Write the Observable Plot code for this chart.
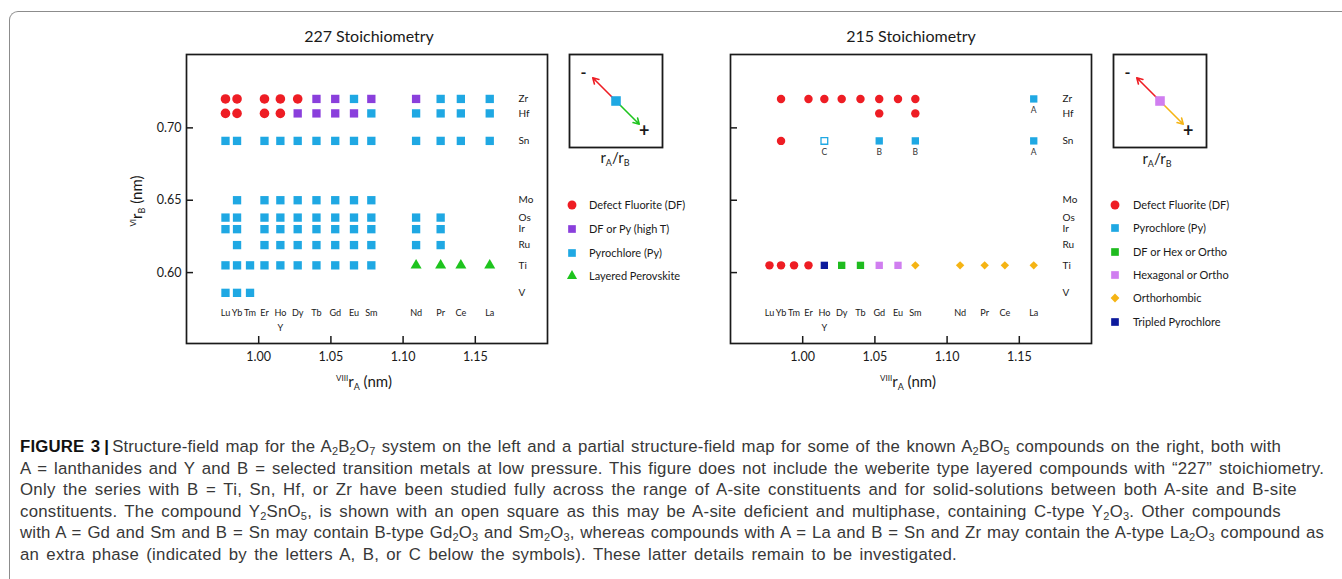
<!DOCTYPE html>
<html><head><meta charset="utf-8">
<script src="https://cdn.jsdelivr.net/npm/d3@7"></script>
<script src="https://cdn.jsdelivr.net/npm/@observablehq/plot@0.6"></script>
<style>
html,body{margin:0;padding:0;background:#fff}
body{width:1342px;height:579px;overflow:hidden;position:relative;font-family:Lato,"Open Sans",sans-serif;color:#1a1a1a}
.abs{position:absolute}
#border{position:absolute;left:9px;top:11px;width:1400px;height:700px;border-left:1px solid #8c8c8c;border-top:1px solid #8c8c8c;border-top-left-radius:9px}
.title{font-size:16px;text-align:center;width:240px;line-height:20px}
.axlab{font-size:15px;white-space:nowrap;line-height:18px}
.axlab sup{font-size:8px;vertical-align:6px}
.axlab sub{font-size:9px;vertical-align:-3px}
.ratio{font-size:15px;white-space:nowrap;line-height:18px}
.ratio sub{font-size:9px;vertical-align:-3px}
.leg{position:absolute;font-size:11px;white-space:nowrap;line-height:14px}
.leg svg{position:absolute;overflow:visible}
.cap{position:absolute;white-space:nowrap;font-family:"Liberation Sans",Arial,sans-serif;font-size:16.8px;line-height:20px;color:#383838}
.cap sub{font-size:11px;position:relative;top:3px;vertical-align:baseline}
.cap b{color:#111}
</style></head><body>
<div id="border"></div>
<script>
// ---------- data ----------
const aSites = ["Lu","Yb","Tm","Er","Ho","Dy","Tb","Gd","Eu","Sm","Nd","Pr","Ce","La"];
const aSitesBelow = ["","","","","Y","","","","","","","","",""];
const rA = [0.977,0.985,0.994,1.004,1.015,1.027,1.040,1.053,1.066,1.078,1.109,1.126,1.140,1.160];
const bSites = ["Zr","Hf","Sn","Mo","Os","Ir","Ru","Ti","V"];
const rB = [0.720,0.710,0.691,0.650,0.638,0.630,0.619,0.605,0.586];
const xTicks = [1.00,1.05,1.10,1.15];
const yTicks = [0.60,0.65,0.70];

// 227 stoichiometry: phase per A site (order of aSites), "" = not shown
const p227_Zr = ["DF","DF","","DF","DF","DF","DP","DP","Py","DP","DP","Py","Py","Py"];
const p227_Hf = ["DF","DF","","DF","DF","DP","DP","DP","DP","Py","Py","Py","Py","Py"];
const p227_Sn = ["Py","Py","","Py","Py","Py","Py","Py","Py","Py","Py","Py","Py","Py"];
const p227_Mo = ["","Py","","Py","Py","Py","Py","Py","Py","Py","","","",""];
const p227_Os = ["Py","Py","","Py","Py","Py","Py","Py","Py","Py","Py","Py","",""];
const p227_Ir = ["Py","Py","","Py","Py","Py","Py","Py","Py","Py","Py","Py","",""];
const p227_Ru = ["","Py","","Py","Py","Py","Py","Py","Py","Py","Py","Py","",""];
const p227_Ti = ["Py","Py","Py","Py","Py","Py","Py","Py","Py","Py","LP","LP","LP","LP"];
const p227_V  = ["Py","Py","Py","","","","","","","","","","",""];

// 215 stoichiometry
const p215_Zr = ["","DF","","DF","DF","DF","DF","DF","DF","DF","","","","Py"];
const p215_Hf = ["","","","","","","","DF","","DF","","","",""];
const p215_Sn = ["","DF","","","Op","","","Py","","Py","","","","Py"];
const p215_Ti = ["DF","DF","DF","DF","TP","DHO","DHO","HO","HO","O","O","O","O","O"];
// extra-phase letters (215)
const x215_Zr = ["","","","","","","","","","","","","","A"];
const x215_Sn = ["","","","","C","","","B","","B","","","","A"];

const legend227Codes  = ["DF","DP","Py","LP"];
const legend227Labels = ["Defect Fluorite (DF)","DF or Py (high T)","Pyrochlore (Py)","Layered Perovskite"];
const legend215Codes  = ["DF","Py","DHO","HO","O","TP"];
const legend215Labels = ["Defect Fluorite (DF)","Pyrochlore (Py)","DF or Hex or Ortho","Hexagonal or Ortho","Orthorhombic","Tripled Pyrochlore"];

const insetArrows227 = [{sign:-1, phase:"DF"},{sign:1, phase:"LP"}];
const insetArrows215 = [{sign:-1, phase:"DF"},{sign:1, phase:"O"}];

// ---------- styles ----------
const INK = "#1a1a1a";
const phaseStyle = {
  DF:  {symbol:"circle",   fill:"#ee1d24", r:4.8},
  DP:  {symbol:"square",   fill:"#8a3fdc", r:4.7},
  Py:  {symbol:"square",   fill:"#1fa8e3", r:4.7},
  LP:  {symbol:"triangle", fill:"#1ec41e", r:4.1},
  Op:  {symbol:"square",   fill:"#ffffff", stroke:"#1fa8e3", r:4.3},
  TP:  {symbol:"square",   fill:"#0d1a9c", r:4.7},
  DHO: {symbol:"square",   fill:"#1fbb1f", r:4.7},
  HO:  {symbol:"square",   fill:"#d07ef0", r:4.7},
  O:   {symbol:"diamond2", fill:"#f5b414", r:4.3}
};
const symbolMap = {circle:d3.symbolCircle, square:d3.symbolSquare, triangle:d3.symbolTriangle, diamond2:d3.symbolDiamond2};

const W = 560, H = 400, ML = 186, MR = 13, MT = 54, MB = 57;
const innerW = W - ML - MR, innerH = H - MT - MB;

function collect(rowDefs, key) {
  const out = [];
  for (const [b, arr] of rowDefs) {
    const j = bSites.indexOf(b);
    arr.forEach((v, i) => { if (v) out.push({x: rA[i], y: rB[j], [key]: v}); });
  }
  return out;
}

function makeChart(rowDefs, letterDefs, scale, withY) {
  const recs = collect(rowDefs, "phase");
  const lets = collect(letterDefs, "t");
  const phases = [...new Set(recs.map(d => d.phase))];
  const marks = [
    Plot.frame({stroke: INK, strokeWidth: 1.7}),
    Plot.tickX(xTicks, {x: d => d, insetTop: innerH - 7, stroke: INK, strokeWidth: 1.5}),
    Plot.tickY(yTicks, {y: d => d, insetRight: innerW - 7, stroke: INK, strokeWidth: 1.5}),
    Plot.axisX(xTicks, {tickSize: 0, tickPadding: 9, tickFormat: d3.format(".2f"), fontSize: 12.5, label: null, fill: INK}),
    Plot.text(bSites, {y: (d, i) => rB[i], text: d => d, frameAnchor: "right", textAnchor: "start", dx: -29, fontSize: 10, fill: INK}),
    Plot.text(aSites, {x: (d, i) => rA[i], text: d => d, frameAnchor: "bottom", dy: -28, fontSize: 9.1, fill: INK}),
    Plot.text(aSitesBelow, {x: (d, i) => rA[i], text: d => d, frameAnchor: "bottom", dy: -13, fontSize: 9.1, fill: INK}),
    ...phases.map(p => {
      const s = phaseStyle[p];
      return Plot.dot(recs.filter(d => d.phase === p), {x: "x", y: "y", symbol: s.symbol, r: s.r * scale,
        fill: s.fill, stroke: s.stroke || "none", strokeWidth: 1.3});
    }),
    Plot.text(lets, {x: "x", y: "y", text: "t", dy: 11, fontSize: 8.5, fill: "#333"})
  ];
  if (withY) marks.push(Plot.axisY(yTicks, {tickSize: 0, tickPadding: 5, tickFormat: d3.format(".2f"), fontSize: 12.5, label: null, fill: INK}));
  return Plot.plot({
    width: W, height: H, marginLeft: ML, marginRight: MR, marginTop: MT, marginBottom: MB,
    x: {domain: [0.95, 1.20]},
    y: withY ? {domain: [0.551, 0.7507]} : {domain: [0.551, 0.7507], axis: null},
    style: {fontFamily: "Lato, sans-serif", background: "transparent", overflow: "visible", color: INK},
    marks
  });
}

function makeInset(arrows, centerPhase) {
  return Plot.plot({
    width: 93, height: 93, margin: 0,
    x: {domain: [0, 1], axis: null}, y: {domain: [0, 1], axis: null},
    style: {fontFamily: "Lato, sans-serif", background: "transparent", overflow: "visible", color: INK},
    marks: [
      Plot.frame({stroke: INK, strokeWidth: 1.8}),
      ...arrows.map(a => Plot.arrow([a], {x1: 0.5, y1: 0.5, x2: d => 0.5 + 0.25 * d.sign, y2: d => 0.5 - 0.25 * d.sign,
        stroke: phaseStyle[a.phase].fill, strokeWidth: 1.6, headLength: 6})),
      Plot.dot([centerPhase], {x: 0.5, y: 0.5, symbol: "square", r: 5.4, fill: phaseStyle[centerPhase].fill}),
      Plot.text(["-"], {text: d => d, frameAnchor: "top-left", dx: 11, dy: 12, fontSize: 16, fontWeight: "bold", fill: INK}),
      Plot.text(["+"], {text: d => d, frameAnchor: "bottom-right", dx: -13, dy: -11, fontSize: 18, fontWeight: "bold", fill: INK})
    ]
  });
}

function place(el, left, top) {
  el.style.position = "absolute"; el.style.left = left + "px"; el.style.top = top + "px";
  document.body.appendChild(el); return el;
}
function html(s, cls, left, top, extra) {
  const d = document.createElement("div"); d.className = "abs " + cls; d.innerHTML = s;
  if (extra) Object.assign(d.style, extra);
  return place(d, left, top);
}

// charts
place(makeChart([["Zr",p227_Zr],["Hf",p227_Hf],["Sn",p227_Sn],["Mo",p227_Mo],["Os",p227_Os],["Ir",p227_Ir],["Ru",p227_Ru],["Ti",p227_Ti],["V",p227_V]], [], 1, true), 0, 0);
place(makeChart([["Zr",p215_Zr],["Hf",p215_Hf],["Sn",p215_Sn],["Ti",p215_Ti]], [["Zr",x215_Zr],["Sn",x215_Sn]], 0.88, false), 544, 0);
place(makeInset(insetArrows227, "Py"), 569, 54);
place(makeInset(insetArrows215, "HO"), 1113, 54);

// titles & axis labels
html("227 Stoichiometry", "title", 369 - 120, 26);
html("215 Stoichiometry", "title", 911 - 120, 26);
html("<sup>VI</sup>r<sub>B</sub> (nm)", "axlab", 137, 201, {transform: "translate(-50%,-50%) rotate(-90deg)"});
html("<sup>VIII</sup>r<sub>A</sub> (nm)", "axlab", 364, 382, {transform: "translate(-50%,-50%)"});
html("<sup>VIII</sup>r<sub>A</sub> (nm)", "axlab", 908, 382, {transform: "translate(-50%,-50%)"});
html("r<sub>A</sub>/r<sub>B</sub>", "ratio", 615, 160, {transform: "translate(-50%,-50%)"});
html("r<sub>A</sub>/r<sub>B</sub>", "ratio", 1157, 161, {transform: "translate(-50%,-50%)"});

// legends
function legend(codes, labels, mx, tx, y0, dy) {
  codes.forEach((c, i) => {
    const s = phaseStyle[c];
    const y = y0 + i * dy;
    const path = d3.symbol(symbolMap[s.symbol], Math.PI * s.r * s.r * 0.85)();
    const d = document.createElement("div");
    d.className = "leg";
    d.style.left = mx + "px"; d.style.top = (y - 7) + "px";
    d.innerHTML = `<svg width="1" height="1" style="left:0;top:7px"><path d="${path}" fill="${s.fill}"></path></svg>` +
      `<span style="position:absolute;left:${tx - mx}px;top:0">${labels[i]}</span>`;
    document.body.appendChild(d);
  });
}
legend(legend227Codes, legend227Labels, 572, 589, 205, 23.8);
legend(legend215Codes, legend215Labels, 1115, 1133, 205, 23.3);

// caption
const capLines = [
  ['<b>FIGURE 3</b><b style="margin:0 3px 0 4px">|</b>Structure-field map for the A<sub>2</sub>B<sub>2</sub>O<sub>7</sub> system on the left and a partial structure-field map for some of the known A<sub>2</sub>BO<sub>5</sub> compounds on the right, both with', 1281],
  ['A = lanthanides and Y and B = selected transition metals at low pressure. This figure does not include the weberite type layered compounds with “227” stoichiometry.', 1324],
  ['Only the series with B = Ti, Sn, Hf, or Zr have been studied fully across the range of A-site constituents and for solid-solutions between both A-site and B-site', 1297],
  ['constituents. The compound Y<sub>2</sub>SnO<sub>5</sub>, is shown with an open square as this may be A-site deficient and multiphase, containing C-type Y<sub>2</sub>O<sub>3</sub>. Other compounds', 1281],
  ['with A = Gd and Sm and B = Sn may contain B-type Gd<sub>2</sub>O<sub>3</sub> and Sm<sub>2</sub>O<sub>3</sub>, whereas compounds with A = La and B = Sn and Zr may contain the A-type La<sub>2</sub>O<sub>3</sub> compound as', 1324],
  ['an extra phase (indicated by the letters A, B, or C below the symbols). These latter details remain to be investigated.', 957]
];
const capLeft = 20, capTop = 437, capLH = 21.6;
capLines.forEach(([s, right], k) => {
  const d = document.createElement("div");
  d.className = "cap"; d.innerHTML = s;
  d.style.left = capLeft + "px"; d.style.top = (capTop + k * capLH) + "px";
  document.body.appendChild(d);
  const w = d.getBoundingClientRect().width;
  const target = right - capLeft;
  const txt = d.textContent;
  const diff = target - w;
  if (diff < 0) {
    d.style.letterSpacing = (diff / txt.length) + "px";
  } else {
    const n = (txt.match(/ /g) || []).length;
    d.style.letterSpacing = (diff * 0.4 / txt.length) + "px";
    d.style.wordSpacing = (diff * 0.6 / Math.max(1, n)) + "px";
  }
});
</script>
</body></html>
